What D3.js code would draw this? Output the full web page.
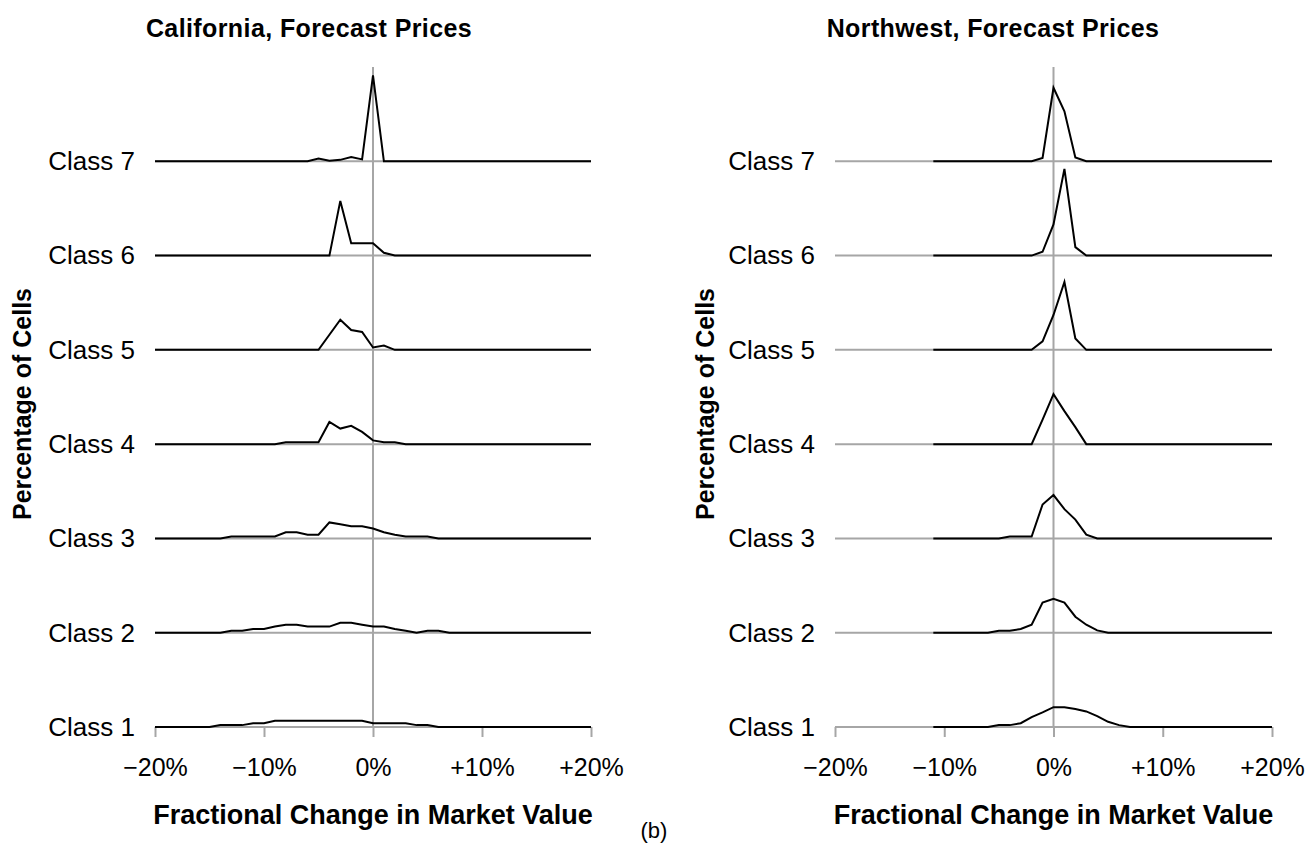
<!DOCTYPE html>
<html>
<head>
<meta charset="utf-8">
<script src="https://cdn.jsdelivr.net/npm/d3@7"></script>
<style>
    body { margin: 0; background: #fff; }
    svg { display: block; font-family: 'Liberation Sans', Arial, sans-serif; }
</style>
</head>
<body>
<svg id="chart" width="1307" height="852"></svg>
<script>
'use strict';

var classLabels = [ 'Class 1', 'Class 2', 'Class 3', 'Class 4', 'Class 5', 'Class 6', 'Class 7' ],
    classLevels = [ 1, 2, 3, 4, 5, 6, 7 ],
    xTicks = [ -20, -10, 0, 10, 20 ],
    xTickLabels = [ '\u221220%', '\u221210%', '0%', '+10%', '+20%' ];

// California: one value per 1% step, -20% .. +20%
var caPct = [ -20, -19, -18, -17, -16, -15, -14, -13, -12, -11,
    -10, -9, -8, -7, -6, -5, -4, -3, -2, -1,
    0, 1, 2, 3, 4, 5, 6, 7, 8, 9,
    10, 11, 12, 13, 14, 15, 16, 17, 18, 19, 20 ];

var caClass1 = [ 0, 0, 0, 0, 0, 0, .02, .02, .02, .04,
    .04, .065, .065, .065, .065, .065, .065, .065, .065, .065,
    .04, .04, .04, .04, .02, .02, 0, 0, 0, 0,
    0, 0, 0, 0, 0, 0, 0, 0, 0, 0, 0 ];
var caClass2 = [ 0, 0, 0, 0, 0, 0, 0, .02, .02, .04,
    .04, .065, .085, .085, .065, .065, .065, .105, .105, .085,
    .065, .065, .04, .02, 0, .02, .02, 0, 0, 0,
    0, 0, 0, 0, 0, 0, 0, 0, 0, 0, 0 ];
var caClass3 = [ 0, 0, 0, 0, 0, 0, 0, .02, .02, .02,
    .02, .02, .065, .065, .04, .04, .17, .15, .13, .13,
    .105, .065, .04, .02, .02, .02, 0, 0, 0, 0,
    0, 0, 0, 0, 0, 0, 0, 0, 0, 0, 0 ];
var caClass4 = [ 0, 0, 0, 0, 0, 0, 0, 0, 0, 0,
    0, 0, .02, .02, .02, .02, .235, .165, .195, .13,
    .04, .02, .02, 0, 0, 0, 0, 0, 0, 0,
    0, 0, 0, 0, 0, 0, 0, 0, 0, 0, 0 ];
var caClass5 = [ 0, 0, 0, 0, 0, 0, 0, 0, 0, 0,
    0, 0, 0, 0, 0, 0, .16, .32, .21, .19,
    .025, .045, 0, 0, 0, 0, 0, 0, 0, 0,
    0, 0, 0, 0, 0, 0, 0, 0, 0, 0, 0 ];
var caClass6 = [ 0, 0, 0, 0, 0, 0, 0, 0, 0, 0,
    0, 0, 0, 0, 0, 0, 0, .58, .13, .13,
    .13, .03, 0, 0, 0, 0, 0, 0, 0, 0,
    0, 0, 0, 0, 0, 0, 0, 0, 0, 0, 0 ];
var caClass7 = [ 0, 0, 0, 0, 0, 0, 0, 0, 0, 0,
    0, 0, 0, 0, 0, .03, .005, .015, .045, .02,
    .91, 0, 0, 0, 0, 0, 0, 0, 0, 0,
    0, 0, 0, 0, 0, 0, 0, 0, 0, 0, 0 ];

// Northwest: one value per 1% step, -11% .. +20%
var nwPct = [ -11, -10, -9, -8, -7, -6, -5, -4, -3, -2,
    -1, 0, 1, 2, 3, 4, 5, 6, 7, 8,
    9, 10, 11, 12, 13, 14, 15, 16, 17, 18, 19, 20 ];

var nwClass1 = [ 0, 0, 0, 0, 0, 0, .02, .02, .04, .105,
    .155, .21, .21, .19, .165, .115, .055, .02, 0, 0,
    0, 0, 0, 0, 0, 0, 0, 0, 0, 0, 0, 0 ];
var nwClass2 = [ 0, 0, 0, 0, 0, 0, .02, .02, .04, .085,
    .32, .36, .32, .17, .085, .025, 0, 0, 0, 0,
    0, 0, 0, 0, 0, 0, 0, 0, 0, 0, 0, 0 ];
var nwClass3 = [ 0, 0, 0, 0, 0, 0, 0, .02, .02, .02,
    .36, .46, .31, .2, .04, 0, 0, 0, 0, 0,
    0, 0, 0, 0, 0, 0, 0, 0, 0, 0, 0, 0 ];
var nwClass4 = [ 0, 0, 0, 0, 0, 0, 0, 0, 0, 0,
    .26, .53, .35, .18, 0, 0, 0, 0, 0, 0,
    0, 0, 0, 0, 0, 0, 0, 0, 0, 0, 0, 0 ];
var nwClass5 = [ 0, 0, 0, 0, 0, 0, 0, 0, 0, 0,
    .09, .37, .72, .12, 0, 0, 0, 0, 0, 0,
    0, 0, 0, 0, 0, 0, 0, 0, 0, 0, 0, 0 ];
var nwClass6 = [ 0, 0, 0, 0, 0, 0, 0, 0, 0, 0,
    .04, .33, .92, .09, 0, 0, 0, 0, 0, 0,
    0, 0, 0, 0, 0, 0, 0, 0, 0, 0, 0, 0 ];
var nwClass7 = [ 0, 0, 0, 0, 0, 0, 0, 0, 0, 0,
    .035, .78, .53, .04, 0, 0, 0, 0, 0, 0,
    0, 0, 0, 0, 0, 0, 0, 0, 0, 0, 0, 0 ];

var GRID = '#a6a6a6';

var svg = d3.select( '#chart' );

function panel( opts ){
    var g = svg.append( 'g' ),
        x = d3.scaleLinear().domain( [ -20, 20 ] ).range( [ opts.left, opts.right ] ),
        y = d3.scaleLinear().domain( [ 1, 8 ] ).range( [ 727, 67 ] );

    // horizontal grid at each class, vertical line at 0%
    g.selectAll( 'line.grid' )
        .data( classLevels )
        .enter().append( 'line' )
        .attr( 'class', 'grid' )
        .attr( 'x1', x( -20 ) ).attr( 'x2', x( 20 ) )
        .attr( 'y1', function( d ){ return y( d ); } )
        .attr( 'y2', function( d ){ return y( d ); } )
        .attr( 'stroke', GRID ).attr( 'stroke-width', 2 );

    g.append( 'line' )
        .attr( 'x1', x( 0 ) ).attr( 'x2', x( 0 ) )
        .attr( 'y1', y( 8 ) ).attr( 'y2', y( 1 ) )
        .attr( 'stroke', GRID ).attr( 'stroke-width', 2 );

    var xAxis = g.append( 'g' )
        .attr( 'transform', 'translate(0,' + y( 1 ) + ')' )
        .call( d3.axisBottom( x )
            .tickValues( xTicks )
            .tickSize( 10 )
            .tickPadding( 21 )
            .tickFormat( function( d, i ){ return xTickLabels[i]; } ) );
    xAxis.select( '.domain' ).remove();
    xAxis.selectAll( '.tick line' ).attr( 'stroke', GRID ).attr( 'stroke-width', 2 );
    xAxis.selectAll( '.tick text' )
        .attr( 'fill', '#000' )
        .style( 'font-size', '25px' )
        .style( 'font-family', "'Liberation Sans', Arial, sans-serif" );

    var yAxis = g.append( 'g' )
        .attr( 'transform', 'translate(' + x( -20 ) + ',0)' )
        .call( d3.axisLeft( y )
            .tickValues( classLevels )
            .tickSize( 0 )
            .tickPadding( 20 )
            .tickFormat( function( d, i ){ return classLabels[i]; } ) );
    yAxis.select( '.domain' ).remove();
    yAxis.selectAll( '.tick text' )
        .attr( 'fill', '#000' )
        .style( 'font-size', '26px' )
        .style( 'font-family', "'Liberation Sans', Arial, sans-serif" );

    var line = d3.line()
        .x( function( d ){ return x( d.pct ); } )
        .y( function( d ){ return y( d.level + d.v ); } );

    opts.series.forEach( function( vals, i ){
        var pts = vals.map( function( v, j ){
            return { pct: opts.pct[j], v: v, level: classLevels[i] };
        });
        g.append( 'path' )
            .attr( 'd', line( pts ) )
            .attr( 'fill', 'none' )
            .attr( 'stroke', '#000' )
            .attr( 'stroke-width', 2 );
    });

    g.append( 'text' )
        .attr( 'x', opts.titleX ).attr( 'y', 37 )
        .attr( 'text-anchor', 'middle' )
        .style( 'font-size', '25px' ).style( 'font-weight', 'bold' )
        .style( 'letter-spacing', '0.4px' )
        .text( opts.title );

    g.append( 'text' )
        .attr( 'x', ( opts.left + opts.right ) / 2 ).attr( 'y', 824 )
        .attr( 'text-anchor', 'middle' )
        .style( 'font-size', '27px' ).style( 'font-weight', 'bold' )
        .text( 'Fractional Change in Market Value' );

    g.append( 'text' )
        .attr( 'transform', 'translate(' + opts.yTitleX + ',404) rotate(-90)' )
        .attr( 'text-anchor', 'middle' )
        .style( 'font-size', '25px' ).style( 'font-weight', 'bold' )
        .text( 'Percentage of Cells' );
}

panel({
    left: 155, right: 591,
    titleX: 309, yTitleX: 31,
    title: 'California, Forecast Prices',
    pct: caPct,
    series: [ caClass1, caClass2, caClass3, caClass4, caClass5, caClass6, caClass7 ]
});

panel({
    left: 835, right: 1272,
    titleX: 993, yTitleX: 714,
    title: 'Northwest, Forecast Prices',
    pct: nwPct,
    series: [ nwClass1, nwClass2, nwClass3, nwClass4, nwClass5, nwClass6, nwClass7 ]
});

svg.append( 'text' )
    .attr( 'x', 654 ).attr( 'y', 838 )
    .attr( 'text-anchor', 'middle' )
    .style( 'font-size', '22px' )
    .text( '(b)' );
</script>
</body>
</html>
